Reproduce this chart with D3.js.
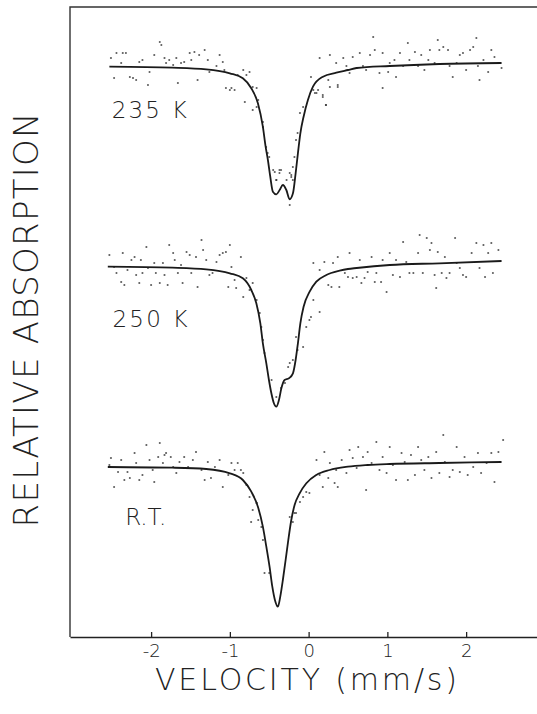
<!DOCTYPE html>
<html>
<head>
<meta charset="utf-8">
<script src="https://cdn.jsdelivr.net/npm/d3@7"></script>
<style>
  body { margin: 0; background: #fff; }
  text { font-family: "DejaVu Sans", "Liberation Sans", sans-serif; font-weight: 200; fill: #222; }
</style>
</head>
<body>
<div id="chart"></div>
<script>
// SVG size
var svgWidth = 537;
var svgHeight = 714;

// Velocity ticks (mm/s)
var velocityTicks = [-2, -1, 0, 1, 2];

// Spectrum names and vertical offsets (% transmission)
var spectrumNames = ["235 K", "250 K", "R.T."];
var spectrumOffsets = [0, 20, 40];

// Fitted curves: [velocity mm/s, transmission %]
var fit235 = [
  [-2.53, 99.93], [-1.73, 99.83], [-1.30, 99.67], [-1.00, 99.27], [-0.835, 98.77],
  [-0.728, 97.77], [-0.644, 96.27], [-0.581, 93.93], [-0.546, 91.93], [-0.517, 90.6],
  [-0.487, 88.93], [-0.454, 87.43], [-0.41, 87.17], [-0.368, 87.6], [-0.327, 88.1],
  [-0.283, 87.6], [-0.241, 86.67], [-0.199, 87.27], [-0.165, 89.27], [-0.136, 91.27],
  [-0.105, 93.27], [-0.064, 94.93], [-0.009, 96.6], [0.055, 97.93], [0.182, 98.93],
  [0.352, 99.33], [0.499, 99.6], [0.61, 99.8], [1.03, 100.0], [1.66, 100.2], [2.45, 100.3]
];
var fit250 = [
  [-2.55, 99.93], [-1.73, 99.83], [-1.30, 99.67], [-1.00, 99.27], [-0.835, 98.77],
  [-0.728, 97.6], [-0.664, 96.27], [-0.613, 94.27], [-0.581, 92.27], [-0.537, 90.27],
  [-0.504, 88.6], [-0.473, 87.27], [-0.441, 86.27], [-0.41, 85.93], [-0.377, 86.6],
  [-0.346, 87.77], [-0.305, 88.6], [-0.25, 88.77], [-0.199, 89.27], [-0.165, 90.6],
  [-0.136, 92.27], [-0.105, 94.27], [-0.064, 95.93], [0.013, 97.43], [0.098, 98.43],
  [0.225, 99.1], [0.394, 99.53], [0.499, 99.7], [0.61, 99.8], [1.03, 100.1], [1.66, 100.27], [2.45, 100.5]
];
var fitRT = [
  [-2.55, 99.9], [-1.73, 99.83], [-1.30, 99.7], [-1.00, 99.27], [-0.835, 98.6],
  [-0.728, 97.43], [-0.644, 95.93], [-0.581, 93.93], [-0.537, 91.93], [-0.496, 89.93],
  [-0.461, 87.93], [-0.428, 86.6], [-0.39, 85.93], [-0.36, 86.93], [-0.327, 88.6],
  [-0.292, 90.6], [-0.258, 92.6], [-0.22, 94.6], [-0.178, 96.1], [-0.114, 97.27],
  [-0.029, 98.27], [0.098, 99.1], [0.267, 99.6], [0.499, 99.93], [0.75, 100.1],
  [1.03, 100.2], [1.66, 100.3], [2.45, 100.4]
];

// Measured points: [velocity mm/s, transmission %]
var dots235 = [
  [-2.51, 100.8], [-2.44, 101.3], [-2.36, 101.3], [-2.32, 101.3], [-2.38, 100.3], [-2.47, 98.8],
  [-2.27, 98.9], [-2.23, 98.8], [-2.19, 98.6], [-2.15, 100.4], [-2.11, 100.6], [-2.04, 98.1],
  [-2.02, 99.4], [-1.96, 101.1], [-1.89, 102.4], [-1.87, 102.1], [-1.83, 100.8], [-1.81, 100.3],
  [-1.77, 100.6], [-1.72, 100.1], [-1.68, 100.8], [-1.66, 98.3], [-1.62, 100.3], [-1.58, 100.4],
  [-1.51, 101.3], [-1.49, 100.6], [-1.45, 101.4], [-1.41, 98.6], [-1.39, 101.1], [-1.32, 101.6],
  [-1.28, 100.6], [-1.26, 99.4], [-1.17, 100.0], [-1.13, 101.1], [-1.09, 100.4], [-1.07, 99.6],
  [-1.05, 97.8], [-1.00, 97.6], [-0.98, 97.8], [-0.94, 97.6], [-0.90, 99.1], [-0.83, 99.6],
  [-0.79, 99.1], [-0.75, 99.4], [-0.71, 97.9], [-0.66, 97.8], [-0.64, 96.6], [-0.66, 95.9],
  [-0.58, 93.9], [-0.54, 91.9], [-0.50, 90.9], [-0.43, 89.4], [-0.41, 88.6], [-0.37, 89.3],
  [-0.35, 89.6], [-0.28, 88.6], [-0.24, 89.3], [-0.22, 88.9], [-0.20, 89.9], [-0.24, 86.1],
  [-0.14, 93.3], [-0.11, 95.3], [-0.07, 95.9], [-0.81, 96.4], [-0.71, 95.6], [-0.58, 94.4],
  [-0.52, 91.3], [-0.45, 89.6], [-0.37, 89.6], [-0.41, 88.6], [-0.22, 89.1], [-0.20, 88.6],
  [-0.16, 92.6], [-0.18, 90.9], [0.08, 97.3], [0.12, 97.6], [0.18, 97.1], [0.22, 96.1],
  [0.27, 97.9], [0.37, 98.1],
  [0.03, 98.9], [0.06, 97.6], [0.10, 97.3], [0.14, 100.8], [0.18, 96.9], [0.22, 96.1],
  [0.25, 98.6], [0.27, 101.1], [0.35, 100.3], [0.37, 97.9], [0.44, 100.8], [0.48, 100.0],
  [0.52, 99.3], [0.56, 100.9], [0.61, 99.8], [0.65, 101.3], [0.69, 100.0], [0.73, 99.6],
  [0.78, 101.1], [0.82, 102.9], [0.84, 101.6], [0.90, 99.3], [0.94, 97.8], [0.94, 101.3],
  [1.01, 99.4], [1.03, 100.3], [1.09, 100.6], [1.11, 98.9], [1.16, 101.3], [1.20, 100.0],
  [1.26, 102.3], [1.28, 100.6], [1.35, 101.4], [1.39, 100.0], [1.43, 101.1], [1.47, 99.6],
  [1.52, 100.6], [1.54, 101.6], [1.60, 100.3], [1.64, 102.6], [1.66, 101.6], [1.71, 101.9],
  [1.77, 101.6], [1.79, 100.0], [1.83, 98.9], [1.88, 100.3], [1.92, 101.1], [1.96, 101.3],
  [2.00, 99.6], [2.05, 101.6], [2.09, 101.9], [2.13, 102.8], [2.15, 100.0], [2.17, 98.6],
  [2.22, 100.6], [2.28, 99.4], [2.32, 101.6], [2.36, 100.9], [2.41, 100.3], [2.45, 99.8]
];
var dots250 = [
  [-2.53, 101.1], [-2.47, 99.9], [-2.44, 99.3], [-2.38, 98.4], [-2.36, 101.3], [-2.34, 98.1],
  [-2.30, 99.6], [-2.25, 100.6], [-2.21, 100.9], [-2.19, 99.1], [-2.15, 98.3], [-2.13, 100.6],
  [-2.11, 99.3], [-2.06, 101.9], [-2.04, 99.8], [-2.00, 98.1], [-1.96, 100.3], [-1.94, 99.3],
  [-1.89, 98.3], [-1.85, 100.3], [-1.83, 99.1], [-1.79, 98.1], [-1.77, 102.1], [-1.72, 101.3],
  [-1.70, 100.6], [-1.66, 99.3], [-1.62, 100.1], [-1.60, 98.3], [-1.55, 101.4], [-1.51, 101.1],
  [-1.49, 99.3], [-1.43, 100.9], [-1.41, 97.9], [-1.36, 102.6], [-1.34, 101.6], [-1.30, 100.6],
  [-1.26, 99.1], [-1.22, 99.3], [-1.17, 100.4], [-1.13, 101.1], [-1.09, 101.3], [-1.05, 101.4],
  [-1.02, 97.9], [-1.00, 102.1], [-0.98, 99.9], [-0.94, 98.6], [-0.92, 97.8], [-0.86, 100.9],
  [-0.83, 96.9], [-0.79, 98.8], [-0.75, 97.6], [-0.71, 98.3], [-0.66, 96.6],
  [-0.62, 95.3], [-0.60, 93.9], [-0.58, 92.6], [-0.56, 91.3], [-0.47, 88.6], [-0.41, 86.9],
  [-0.35, 87.8], [-0.30, 88.3], [-0.26, 89.9], [-0.24, 90.3], [-0.20, 90.6], [-0.16, 92.9],
  [-0.14, 91.6], [-0.07, 91.9], [-0.03, 93.9], [0.01, 94.6], [0.03, 94.9], [0.06, 96.6], [0.14, 95.4],
  [0.06, 100.3], [0.14, 99.6], [0.20, 100.4], [0.25, 98.1], [0.29, 97.9], [0.31, 100.3],
  [0.37, 100.9], [0.39, 97.9], [0.46, 99.3], [0.50, 98.9], [0.52, 101.3], [0.56, 98.8],
  [0.61, 98.9], [0.65, 100.6], [0.67, 98.3], [0.71, 98.8], [0.75, 99.4], [0.80, 100.9],
  [0.84, 98.4], [0.86, 99.3], [0.92, 98.4], [0.94, 100.6], [0.99, 97.4], [1.03, 101.3],
  [1.07, 99.1], [1.11, 100.6], [1.16, 98.9], [1.20, 102.4], [1.24, 100.4], [1.28, 99.3],
  [1.33, 99.3], [1.39, 101.3], [1.41, 103.1], [1.45, 99.3], [1.50, 102.8], [1.54, 101.6],
  [1.56, 102.3], [1.60, 99.1], [1.62, 97.8], [1.64, 101.4], [1.69, 99.3], [1.73, 100.9],
  [1.75, 98.8], [1.79, 99.3], [1.86, 102.8], [1.88, 100.3], [1.92, 99.8], [1.96, 99.1],
  [2.00, 98.9], [2.07, 101.3], [2.13, 102.3], [2.17, 99.8], [2.22, 102.1], [2.24, 98.9],
  [2.28, 101.3], [2.32, 102.3], [2.34, 99.3], [2.41, 101.6]
];
var dotsRT = [
  [-2.53, 100.1], [-2.51, 100.8], [-2.47, 97.9], [-2.42, 99.4], [-2.38, 100.6], [-2.34, 98.6],
  [-2.30, 99.4], [-2.27, 98.8], [-2.21, 101.3], [-2.19, 100.3], [-2.15, 98.6], [-2.11, 99.1],
  [-2.06, 102.1], [-2.02, 100.6], [-1.98, 99.6], [-1.96, 98.4], [-1.91, 100.9], [-1.89, 102.3],
  [-1.85, 100.3], [-1.83, 101.1], [-1.81, 101.3], [-1.75, 100.9], [-1.72, 99.9], [-1.68, 99.3],
  [-1.64, 100.4], [-1.58, 100.9], [-1.53, 99.9], [-1.47, 100.6], [-1.43, 101.4], [-1.36, 99.6],
  [-1.32, 98.6], [-1.28, 100.4], [-1.24, 98.8], [-1.19, 99.9], [-1.13, 100.6], [-1.09, 97.9],
  [-1.02, 99.1], [-0.98, 100.3], [-0.94, 99.6], [-0.90, 100.3], [-0.86, 99.6], [-0.83, 99.3],
  [-0.79, 98.1],
  [-0.75, 96.9], [-0.71, 95.6], [-0.66, 96.3], [-0.64, 94.6], [-0.60, 93.9], [-0.58, 92.6],
  [-0.50, 89.3], [-0.24, 94.9], [-0.18, 95.3], [-0.11, 96.4], [-0.07, 96.9], [-0.03, 97.4],
  [0.01, 97.3], [-0.73, 94.4], [-0.56, 89.3], [-0.16, 95.3], [-0.20, 94.4], [-0.66, 96.3],
  [0.10, 100.6], [0.14, 99.1], [0.18, 97.9], [0.20, 101.4], [0.25, 98.8], [0.27, 100.3],
  [0.33, 98.3], [0.35, 99.6], [0.37, 97.9], [0.42, 100.6], [0.48, 99.3], [0.52, 101.6],
  [0.56, 100.8], [0.61, 99.8], [0.63, 101.9], [0.69, 100.9], [0.73, 97.6], [0.75, 101.4],
  [0.80, 100.3], [0.86, 102.4], [0.90, 99.6], [0.94, 100.9], [0.99, 99.3], [1.03, 101.9],
  [1.07, 100.1], [1.11, 98.6], [1.18, 101.3], [1.22, 100.4], [1.26, 98.6], [1.30, 101.1],
  [1.35, 99.1], [1.39, 101.9], [1.43, 100.6], [1.47, 99.6], [1.52, 100.9], [1.56, 98.8],
  [1.62, 101.4], [1.66, 99.3], [1.71, 103.1], [1.73, 100.4], [1.79, 98.9], [1.83, 99.6],
  [1.88, 101.9], [1.92, 99.4], [1.98, 100.9], [2.02, 99.1], [2.09, 99.9], [2.15, 101.3],
  [2.19, 99.3], [2.26, 100.3], [2.32, 101.3], [2.36, 98.4], [2.41, 101.4], [2.47, 102.6]
];

// Group the spectra for drawing
var spectra = [
  { name: spectrumNames[0], offset: spectrumOffsets[0], fit: fit235, dots: dots235 },
  { name: spectrumNames[1], offset: spectrumOffsets[1], fit: fit250, dots: dots250 },
  { name: spectrumNames[2], offset: spectrumOffsets[2], fit: fitRT, dots: dotsRT }
];

// Plot frame
var frame = { left: 70, right: 537, top: 7, bottom: 637 };

var svg = d3.select("#chart")
  .append("svg")
  .attr("width", svgWidth)
  .attr("height", svgHeight);

// Scales
var xScale = d3.scaleLinear()
  .domain([-3.03, 2.9])
  .range([frame.left, frame.right]);

var yScale = d3.scaleLinear()
  .domain([42.9, 105.9])
  .range([frame.bottom, frame.top]);

// Frame lines (left and top), bottom one comes from the axis
svg.append("path")
  .attr("d", `M${frame.right},${frame.top}H${frame.left}V${frame.bottom}`)
  .attr("fill", "none")
  .attr("stroke", "#333")
  .attr("stroke-width", 1.4);

// Bottom axis with inward ticks
var bottomAxis = d3.axisBottom(xScale)
  .tickValues(velocityTicks)
  .tickSizeInner(-5)
  .tickSizeOuter(0)
  .tickPadding(7)
  .tickFormat(d => String(d));

var xAxis = svg.append("g")
  .attr("transform", `translate(0, ${frame.bottom})`)
  .call(bottomAxis);

xAxis.select(".domain").attr("stroke", "#222").attr("stroke-width", 1.5);
xAxis.selectAll(".tick line").attr("stroke", "#222").attr("stroke-width", 1.3);
xAxis.selectAll(".tick text")
  .attr("font-size", "18px")
  .style("font-family", "\"DejaVu Sans\", sans-serif")
  .style("font-weight", 200)
  .attr("fill", "#222");

// Axis titles
svg.append("text")
  .attr("x", 306)
  .attr("y", 690)
  .attr("text-anchor", "middle")
  .attr("font-size", "30px")
  .attr("textLength", 302)
  .attr("lengthAdjust", "spacing")
  .text("VELOCITY  (mm/s)");

svg.append("text")
  .attr("transform", "translate(38, 320) rotate(-90)")
  .attr("text-anchor", "middle")
  .attr("font-size", "34px")
  .attr("textLength", 415)
  .attr("lengthAdjust", "spacing")
  .text("RELATIVE  ABSORPTION");

// Line generator for fitted curves
var fitLine = d3.line()
  .x(d => xScale(d[0]))
  .curve(d3.curveMonotoneX);

// Label anchors in data units
var labelAnchors = [[-2.5, 94.8], [-2.49, 93.9], [-2.33, 94.1]];

spectra.forEach(function(s, i) {
  var g = svg.append("g").attr("class", "spectrum");

  // Scattered data points
  g.selectAll("circle")
    .data(s.dots)
    .enter()
    .append("circle")
    .attr("cx", d => xScale(d[0]))
    .attr("cy", d => yScale(d[1] - s.offset))
    .attr("r", 1.05)
    .attr("fill", "#333")
    .attr("opacity", 0.8);

  // Fitted curve
  g.append("path")
    .datum(s.fit)
    .attr("d", fitLine.y(d => yScale(d[1] - s.offset)))
    .attr("fill", "none")
    .attr("stroke", "#1a1a1a")
    .attr("stroke-width", 1.8)
    .attr("stroke-linejoin", "round");

  // Temperature label
  g.append("text")
    .attr("x", xScale(labelAnchors[i][0]))
    .attr("y", yScale(labelAnchors[i][1] - s.offset))
    .attr("font-size", "23px")
    .attr("textLength", i < 2 ? 75 : null)
    .attr("lengthAdjust", "spacing")
    .text(s.name);
});
</script>
</body>
</html>
